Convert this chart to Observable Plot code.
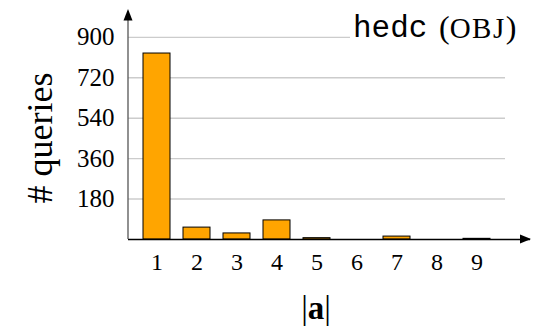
<!DOCTYPE html>
<html>
<head>
<meta charset="utf-8">
<script src="https://cdn.jsdelivr.net/npm/d3@7"></script>
<script src="https://cdn.jsdelivr.net/npm/@observablehq/plot@0.6"></script>
<style>
  html, body { margin: 0; padding: 0; background: #fff; }
  #chart svg { display: block; }
</style>
</head>
<body>
<div id="chart"></div>
<script>
// Data
const sizes = [1, 2, 3, 4, 5, 6, 7, 8, 9];
const queries = [828, 53, 27, 85, 6, 0, 13, 0, 3];
const yTicks = [180, 360, 540, 720, 900];
const titleMono = "hedc";
const titleRest = "(OBJ)";
const yLabel = "# queries";

const data = sizes.map((s, i) => ({size: s, count: queries[i]}));

const W = 537, H = 328;
const mL = 128, mR = 7, mT = 9, mB = 89;
const serif = "'Liberation Serif', 'DejaVu Serif', serif";

const plot = Plot.plot({
  width: W,
  height: H,
  marginLeft: mL,
  marginRight: mR,
  marginTop: mT,
  marginBottom: mB,
  style: {fontFamily: serif, background: "#fff", overflow: "visible"},
  x: {domain: sizes, range: [141.5, 491.5], paddingInner: 0.33, paddingOuter: 0, align: 0.5, axis: null, label: null},
  y: {domain: [0, 1024], axis: null, label: null},
  marks: [
    Plot.ruleY(yTicks, {stroke: "#cccccc", strokeWidth: 1.4, insetRight: 25}),
    Plot.barY(data, {x: "size", y: "count", fill: "#FFA500", stroke: "#000", strokeWidth: 1}),
    Plot.axisY(yTicks, {tickSize: 0, tickPadding: 14, fontSize: 25, fill: "#000", fontFamily: serif, label: null}),
    Plot.axisX(sizes, {tickSize: 0, tickPadding: 13, fontSize: 24, fill: "#000", fontFamily: serif, label: null}),
    Plot.ruleY([0], {stroke: "#000", strokeWidth: 1.3}),
  ]
});

document.getElementById("chart").appendChild(plot);

// decorations: axis line with arrows, labels, title
const svg = d3.select(plot);
const y = plot.scale("y");
const y0 = y.apply(0);
const xr = mL, xEnd = W - mR;

// y axis line and arrowhead
svg.append("line").attr("x1", xr).attr("x2", xr).attr("y1", y0).attr("y2", mT + 10)
  .attr("stroke", "#555").attr("stroke-width", 1.3);
svg.append("polygon")
  .attr("points", `${xr},${mT} ${xr - 4.5},${mT + 11.5} ${xr + 4.5},${mT + 11.5}`)
  .attr("fill", "#000");
// x arrowhead
svg.append("polygon")
  .attr("points", `${xEnd + 1},${y0} ${xEnd - 10},${y0 - 4.5} ${xEnd - 10},${y0 + 4.5}`)
  .attr("fill", "#000");

// y label
svg.append("text")
  .attr("transform", `translate(52, 138) rotate(-90)`)
  .attr("text-anchor", "middle")
  .attr("font-family", serif)
  .attr("font-size", 36)
  .attr("fill", "#000")
  .text(yLabel);

// x label |a|
const xl = svg.append("text")
  .attr("x", 316).attr("y", 319)
  .attr("text-anchor", "middle")
  .attr("font-family", serif)
  .attr("font-size", 33)
  .attr("fill", "#000");
xl.append("tspan").text("|");
xl.append("tspan").attr("font-weight", "bold").text("a");
xl.append("tspan").text("|");

// title with white background
svg.append("rect").attr("x", 350).attr("y", 12).attr("width", 187).attr("height", 38).attr("fill", "#fff");
svg.append("text")
  .attr("x", 353).attr("y", 37)
  .attr("text-anchor", "start")
  .attr("font-family", "'Liberation Mono', 'DejaVu Sans Mono', monospace")
  .attr("font-size", 31)
  .attr("fill", "#000")
  .text(titleMono);
const t = svg.append("text")
  .attr("x", 439).attr("y", 38)
  .attr("text-anchor", "start")
  .attr("font-family", serif)
  .attr("fill", "#000");
t.append("tspan").attr("font-size", 32).text(titleRest[0]);
t.append("tspan").attr("font-size", 29).attr("letter-spacing", 1.5).text(titleRest.slice(1, -1));
t.append("tspan").attr("font-size", 32).text(titleRest.slice(-1));
</script>
</body>
</html>
